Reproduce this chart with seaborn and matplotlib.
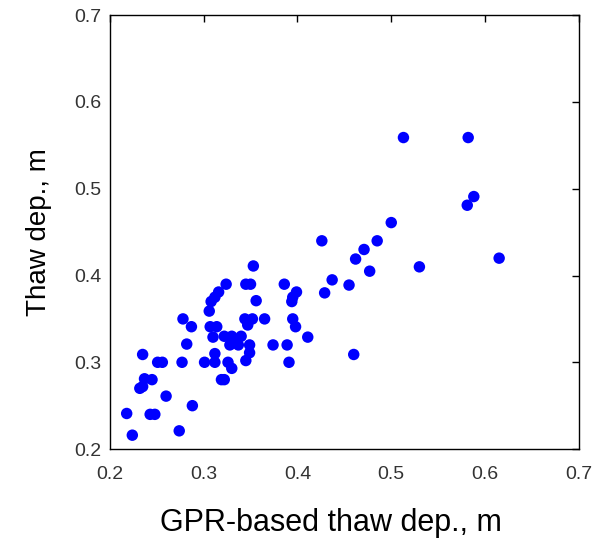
import numpy as np
import pandas as pd
import matplotlib
matplotlib.use('Agg')
import matplotlib.pyplot as plt
import seaborn as sns

sns.set_theme(style='white')
plt.rcParams['font.family'] = ['Liberation Sans', 'DejaVu Sans']

# GPR-based thaw depth (m) vs probed thaw depth (m)
gpr_depth = [0.218, 0.224, 0.232, 0.235, 0.235, 0.237, 0.243, 0.245, 0.248, 0.251,
             0.256, 0.260, 0.274, 0.277, 0.278, 0.282, 0.287, 0.288, 0.301, 0.306,
             0.307, 0.308, 0.310, 0.312, 0.312, 0.312, 0.314, 0.316, 0.319, 0.322,
             0.322, 0.324, 0.326, 0.328, 0.330, 0.330, 0.333, 0.337, 0.340, 0.344,
             0.345, 0.345, 0.347, 0.349, 0.349, 0.350, 0.352, 0.353, 0.356, 0.365,
             0.374, 0.386, 0.389, 0.391, 0.394, 0.395, 0.395, 0.398, 0.399, 0.411,
             0.426, 0.429, 0.437, 0.455, 0.460, 0.462, 0.471, 0.477, 0.485, 0.500,
             0.513, 0.530, 0.581, 0.582, 0.588, 0.615]
thaw_depth = [0.241, 0.216, 0.270, 0.272, 0.309, 0.281, 0.240, 0.280, 0.240, 0.300,
              0.300, 0.261, 0.221, 0.300, 0.350, 0.321, 0.341, 0.250, 0.300, 0.359,
              0.341, 0.370, 0.329, 0.375, 0.310, 0.300, 0.341, 0.381, 0.280, 0.330,
              0.280, 0.390, 0.300, 0.320, 0.293, 0.330, 0.325, 0.320, 0.330, 0.350,
              0.390, 0.302, 0.343, 0.320, 0.311, 0.390, 0.350, 0.411, 0.371, 0.350,
              0.320, 0.390, 0.320, 0.300, 0.370, 0.375, 0.350, 0.341, 0.381, 0.329,
              0.440, 0.380, 0.395, 0.389, 0.309, 0.419, 0.430, 0.405, 0.440, 0.461,
              0.559, 0.410, 0.481, 0.559, 0.491, 0.420]
ticks = [0.2, 0.3, 0.4, 0.5, 0.6, 0.7]

df = pd.DataFrame({'gpr': gpr_depth, 'thaw': thaw_depth})

fig = plt.figure(figsize=(6.1, 5.43), dpi=100)
ax = fig.add_axes([0.180, 0.173, 0.769, 0.799])
sns.scatterplot(data=df, x='gpr', y='thaw', color='#0000ff', s=68,
                edgecolor='none', linewidth=0, ax=ax)

ax.set_xlim(0.2, 0.7)
ax.set_ylim(0.2, 0.7)
ax.set_xticks(ticks)
ax.set_yticks(ticks)
ax.set_xticklabels([f'{t:.1f}' for t in ticks])
ax.set_yticklabels([f'{t:.1f}' for t in ticks])
ax.tick_params(direction='in', length=5, width=1, color='black',
               top=True, right=True, labelsize=14, labelcolor='#333333')
ax.tick_params(axis='x', pad=12)
ax.tick_params(axis='y', pad=6)
for sp in ax.spines.values():
    sp.set_color('black')
    sp.set_linewidth(1)

ax.set_xlabel('GPR-based thaw dep., m', fontsize=22, color='black')
ax.xaxis.set_label_coords(0.472, -0.135)
ax.set_ylabel('Thaw dep., m', fontsize=20, labelpad=16, color='black')

plt.savefig('out.png', dpi=100)
plt.close()
